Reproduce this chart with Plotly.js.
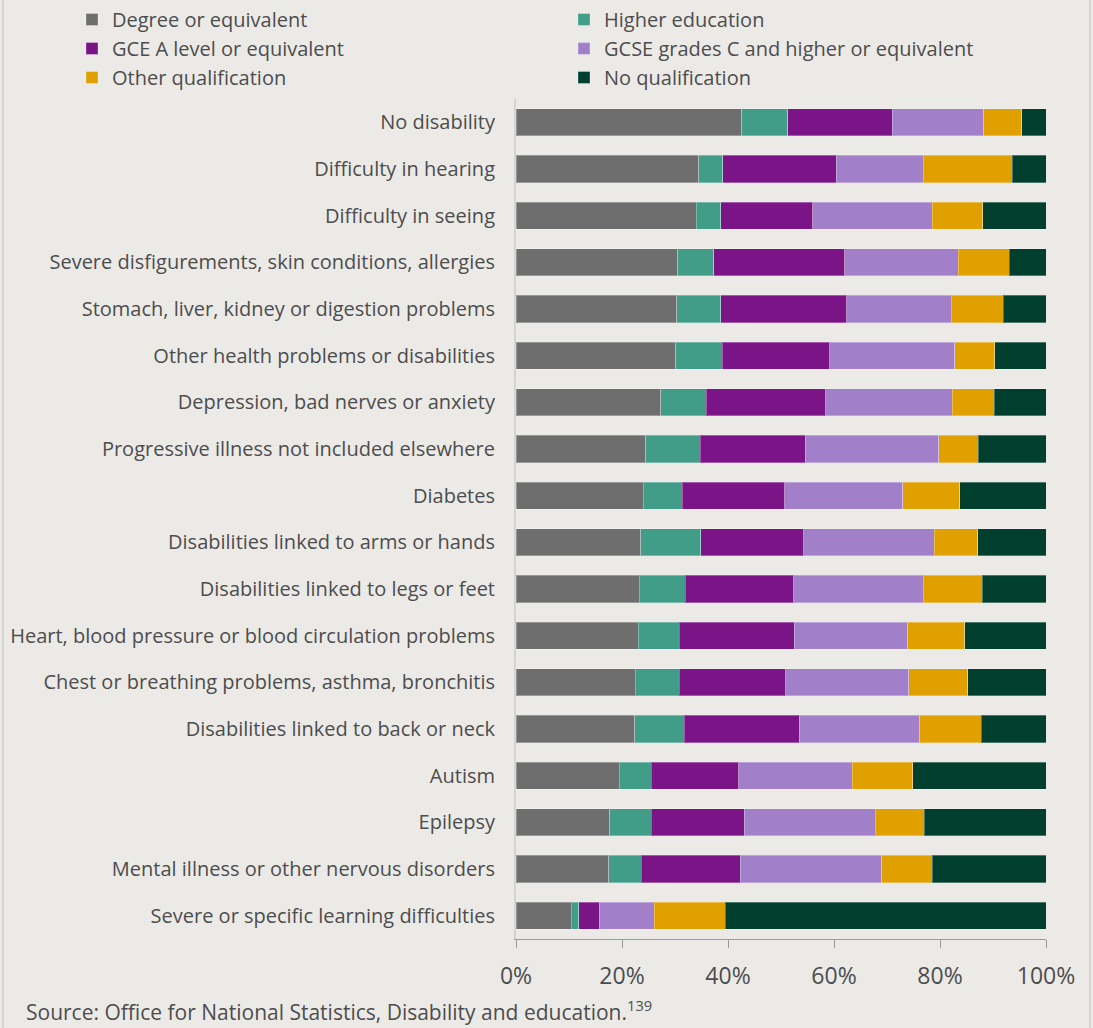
<!DOCTYPE html>
<html>
<head>
<meta charset="utf-8">
<script src="https://cdn.plot.ly/plotly-3.0.1.min.js"></script>
<style>
  html, body { margin: 0; padding: 0; background: #ECEAE7; }
  #chart { width: 1093px; height: 1028px; }
</style>
</head>
<body>
<div id="chart"></div>
<script>
const categories = [
  "No disability",
  "Difficulty in hearing",
  "Difficulty in seeing",
  "Severe disfigurements, skin conditions, allergies",
  "Stomach, liver, kidney or digestion problems",
  "Other health problems or disabilities",
  "Depression, bad nerves or anxiety",
  "Progressive illness not included elsewhere",
  "Diabetes",
  "Disabilities linked to arms or hands",
  "Disabilities linked to legs or feet",
  "Heart, blood pressure or blood circulation problems",
  "Chest or breathing problems, asthma, bronchitis",
  "Disabilities linked to back or neck",
  "Autism",
  "Epilepsy",
  "Mental illness or other nervous disorders",
  "Severe or specific learning difficulties"
];

const seriesNames = [
  "Degree or equivalent",
  "Higher education",
  "GCE A level or equivalent",
  "GCSE grades C and higher or equivalent",
  "Other qualification",
  "No qualification"
];

const degree   = [42.6, 34.5, 34.0, 30.5, 30.3, 30.1, 27.3, 24.5, 24.0, 23.5, 23.3, 23.1, 22.5, 22.4, 19.5, 17.7, 17.5, 10.4];
const higherEd = [ 8.7,  4.5,  4.6,  6.8,  8.3,  8.8,  8.6, 10.3,  7.4, 11.4,  8.6,  7.7,  8.3,  9.3,  6.0,  7.8,  6.1,  1.4];
const aLevel   = [19.7, 21.4, 17.4, 24.7, 23.8, 20.3, 22.5, 19.8, 19.3, 19.4, 20.5, 21.7, 20.1, 21.7, 16.5, 17.6, 18.7,  3.9];
const gcse     = [17.3, 16.4, 22.5, 21.4, 19.7, 23.6, 23.9, 25.2, 22.3, 24.6, 24.4, 21.4, 23.2, 22.8, 21.4, 24.7, 26.7, 10.4];
const other    = [ 7.1, 16.8,  9.6,  9.7,  9.8,  7.5,  7.9,  7.4, 10.7,  8.2, 11.2, 10.8, 11.1, 11.6, 11.5,  9.2,  9.5, 13.4];
const noQual   = [ 4.6,  6.4, 11.9,  6.9,  8.1,  9.7,  9.8, 12.8, 16.3, 12.9, 12.0, 15.3, 14.8, 12.2, 25.1, 23.0, 21.5, 60.5];

const xTickVals = [0, 20, 40, 60, 80, 100];
const xTickText = ["0%", "20%", "40%", "60%", "80%", "100%"];

const colors = ["#6E6E6E", "#419D88", "#7B1487", "#A27FC9", "#E0A000", "#003E2D"];
const seriesValues = [degree, higherEd, aLevel, gcse, other, noQual];
// left legend column: items 0,2,4 ; right column: items 1,3,5
const legendOf = ["legend", "legend2", "legend", "legend2", "legend", "legend2"];

const traces = seriesValues.map((vals, i) => ({
  type: "bar",
  orientation: "h",
  name: seriesNames[i],
  legend: legendOf[i],
  y: categories,
  x: vals,
  marker: { color: colors[i], line: { width: 1, color: "rgba(255,255,255,0.3)" } },
  hoverinfo: "name+x"
}));

const W = 1093, H = 1028;
const L = 516, R = 47, T = 99, B = 89;
const PW = W - L - R, PH = H - T - B;
const px = (x) => (x - L) / PW;
const py = (y) => (H - B - y) / PH;

const legendCommon = {
  orientation: "v",
  xanchor: "left",
  yanchor: "top",
  traceorder: "normal",
  font: { size: 20, color: "#4D4D4D" },
  bgcolor: "rgba(0,0,0,0)",
  tracegroupgap: 0
};

const layout = {
  width: W,
  height: H,
  barmode: "stack",
  bargap: 0.42,
  paper_bgcolor: "#ECEAE7",
  plot_bgcolor: "#ECEAE7",
  font: { family: "Open Sans, sans-serif", color: "#4D4D4D", size: 20 },
  margin: { l: L, r: R, t: T, b: B, pad: 0, autoexpand: false },
  showlegend: true,
  legend: Object.assign({}, legendCommon, { xref: "paper", yref: "paper", x: px(72), y: py(0) }),
  legend2: Object.assign({}, legendCommon, { xref: "paper", yref: "paper", x: px(564), y: py(0) }),
  xaxis: {
    range: [0, 100],
    tickvals: xTickVals,
    ticktext: xTickText,
    showgrid: false,
    zeroline: false,
    showline: true,
    linecolor: "#9A9A9A",
    linewidth: 1,
    ticks: "outside",
    ticklen: 8,
    tickcolor: "#9A9A9A",
    tickfont: { size: 23, color: "#4D4D4D" },
    ticklabelstandoff: 8,
    fixedrange: true
  },
  yaxis: {
    type: "category",
    autorange: "reversed",
    showgrid: false,
    zeroline: false,
    showline: true,
    linecolor: "#D6D4D1",
    linewidth: 2,
    ticks: "",
    tickfont: { size: 20, color: "#4D4D4D" },
    ticklabelstandoff: 15,
    fixedrange: true
  },
  shapes: [
    { type: "line", xref: "paper", yref: "paper", x0: px(3), x1: px(3), y0: py(H), y1: py(0), line: { color: "#D6D4D1", width: 2 } },
    { type: "line", xref: "paper", yref: "paper", x0: px(1090), x1: px(1090), y0: py(H), y1: py(0), line: { color: "#D6D4D1", width: 2 } }
  ],
  annotations: [
    {
      xref: "paper", yref: "paper",
      x: px(24), y: py(1011),
      xanchor: "left", yanchor: "middle",
      showarrow: false,
      align: "left",
      text: "Source: Office for National Statistics, Disability and education.<sup>139</sup>",
      font: { size: 21, color: "#4D4D4D" }
    }
  ]
};

Plotly.newPlot("chart", traces, layout, { displayModeBar: false, staticPlot: true });
</script>
</body>
</html>
